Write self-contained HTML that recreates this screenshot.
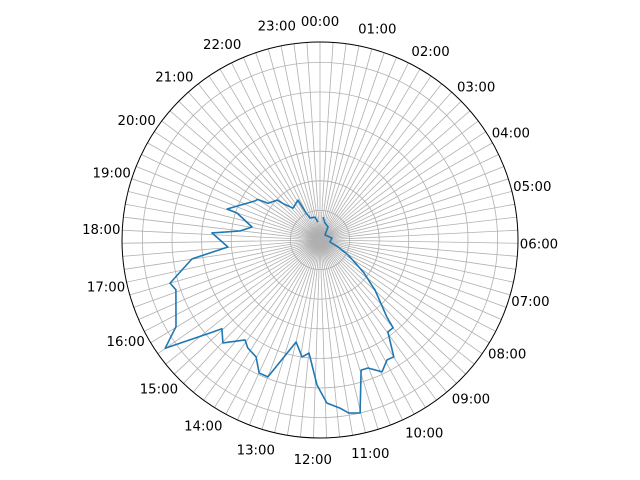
<!DOCTYPE html>
<html><head><meta charset="utf-8"><style>
html,body{margin:0;padding:0;background:#fff;}
svg{display:block;}
text{font-family:"DejaVu Sans","Liberation Sans",sans-serif;font-size:13.3px;fill:#000;}
</style></head><body>
<svg id="chart" width="640" height="480" viewBox="0 0 640 480" xmlns="http://www.w3.org/2000/svg">
<g id="grid"></g>
<g id="labels"></g>
<g id="series"></g>
<circle cx="320" cy="240" r="198" fill="none" stroke="#000" stroke-width="1"/>
</svg>
<script>
const hourLabels = ["00:00","01:00","02:00","03:00","04:00","05:00","06:00","07:00","08:00","09:00","10:00","11:00","12:00","13:00","14:00","15:00","16:00","17:00","18:00","19:00","20:00","21:00","22:00","23:00"];
const radialTicks = [1,2,3,4,5,6];
const times = [0.5,1.09,2.1,3.0,5.37,6.75,7.4,7.87,8.2,8.45,8.77,8.82,9.27,9.35,9.57,9.85,10.05,10.32,10.63,10.83,11.13,11.37,11.55,11.84,12.08,12.37,12.58,12.88,13.39,13.64,13.91,14.25,14.46,14.89,15.19,15.29,15.67,15.93,16.73,16.93,17.44,17.71,18.0,18.25,18.43,18.72,19.2,19.23,20.07,20.2,20.35,20.86,21.0,21.32,22.08,22.2,22.37,23.18,23.58];
const values = [0.78,0.6,0.52,0.24,0.41,0.34,0.65,1.07,1.42,1.85,2.39,2.51,3.45,3.86,3.86,4.67,4.64,4.92,4.62,4.61,6.0,5.93,5.72,5.51,4.9,3.84,4.0,3.54,4.95,4.94,4.5,4.39,4.22,4.78,4.47,4.77,6.38,5.68,5.15,5.27,4.37,3.12,3.38,3.66,2.72,2.34,2.95,3.31,2.56,2.52,2.15,1.98,1.71,1.41,1.54,0.99,0.82,0.79,0.61];
const CX=320, CY=240, R=198, UNIT=29.6;
const NS="http://www.w3.org/2000/svg";
function ang(h){return h/24*2*Math.PI;}
function tickAng(i){return i/95*2*Math.PI;}
function px(h,v){const a=ang(h),r=v*UNIT;return [CX+r*Math.sin(a),CY-r*Math.cos(a)];}
const grid=document.getElementById('grid');
for(let i=0;i<95;i++){
  const a=tickAng(i);
  const l=document.createElementNS(NS,'line');
  
  
  l.setAttribute('x1',CX);l.setAttribute('y1',CY);
  l.setAttribute('x2',CX+R*Math.sin(a));l.setAttribute('y2',CY-R*Math.cos(a));
  l.setAttribute('stroke','#b0b0b0');l.setAttribute('stroke-width','0.8');
  grid.appendChild(l);
}
radialTicks.forEach(t=>{
  const c=document.createElementNS(NS,'circle');
  
  
  c.setAttribute('cx',CX);c.setAttribute('cy',CY);c.setAttribute('r',t*UNIT);
  c.setAttribute('fill','none');c.setAttribute('stroke','#b0b0b0');c.setAttribute('stroke-width','0.8');
  grid.appendChild(c);
});
const lg=document.getElementById('labels');
hourLabels.forEach((s,i)=>{
  const a=tickAng(i*4), r=219;
  const t=document.createElementNS(NS,'text');
  
  
  t.setAttribute('x',CX+r*Math.sin(a));t.setAttribute('y',CY-r*Math.cos(a)+5);
  t.setAttribute('text-anchor','middle');
  t.textContent=s;
  lg.appendChild(t);
});
const pts=times.map((h,i)=>px(h,values[i]));
const p=document.createElementNS(NS,'path');


p.setAttribute('d',pts.map((q,i)=>(i?'L':'M')+q[0].toFixed(1)+' '+q[1].toFixed(1)).join(' '));
p.setAttribute('fill','none');p.setAttribute('stroke','#1f77b4');p.setAttribute('stroke-width','1.6');
p.setAttribute('stroke-linejoin','round');
document.getElementById('series').appendChild(p);
</script>
</body></html>
